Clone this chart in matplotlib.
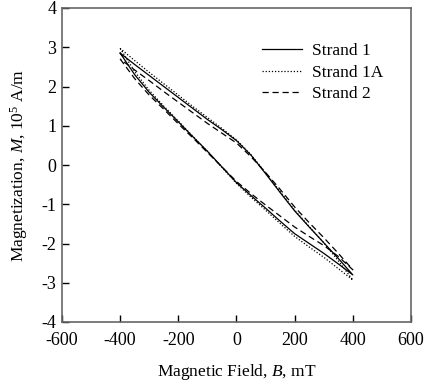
import matplotlib
matplotlib.use("Agg")
import matplotlib.pyplot as plt
import numpy as np

# Data
field = [-400, -350, -300, -250, -200, -150, -100, -50, 0, 50, 100, 150, 200, 250, 300, 350, 400]

s1_lower = [2.85, 2.30, 1.85, 1.47, 1.10, 0.72, 0.35, -0.05, -0.45, -0.78, -1.10, -1.43, -1.75, -2.00, -2.25, -2.52, -2.80]
s1_upper = [2.85, 2.56, 2.28, 2.00, 1.72, 1.44, 1.16, 0.90, 0.62, 0.25, -0.22, -0.70, -1.17, -1.58, -1.98, -2.38, -2.80]

s1a_lower = [2.97, 2.38, 1.90, 1.50, 1.12, 0.73, 0.35, -0.06, -0.47, -0.82, -1.15, -1.49, -1.82, -2.09, -2.35, -2.64, -2.93]
s1a_upper = [2.97, 2.66, 2.36, 2.07, 1.78, 1.49, 1.21, 0.93, 0.64, 0.26, -0.20, -0.68, -1.15, -1.57, -1.98, -2.44, -2.93]

s2_lower = [2.70, 2.20, 1.78, 1.42, 1.05, 0.69, 0.32, -0.05, -0.42, -0.73, -1.02, -1.30, -1.58, -1.82, -2.05, -2.33, -2.67]
s2_upper = [2.70, 2.42, 2.15, 1.87, 1.60, 1.33, 1.06, 0.81, 0.56, 0.21, -0.19, -0.62, -1.07, -1.47, -1.85, -2.25, -2.67]

labels = ["Strand 1", "Strand 1A", "Strand 2"]
xticks = [-600, -400, -200, 0, 200, 400, 600]
yticks = [-4, -3, -2, -1, 0, 1, 2, 3, 4]

plt.rcParams['font.family'] = ['Liberation Serif', 'DejaVu Serif']
plt.rcParams['mathtext.fontset'] = 'custom'
plt.rcParams['mathtext.rm'] = 'Liberation Serif'
plt.rcParams['mathtext.it'] = 'Liberation Serif:italic'
plt.rcParams['axes.unicode_minus'] = False

fig = plt.figure(figsize=(4.27, 3.87), dpi=100)
ax = fig.add_axes([62/427, 1 - 322/387, (411-62)/427, (322-8)/387])

def loop(lower, upper):
    x = list(field) + list(field[::-1])
    y = list(lower) + list(upper[::-1])
    return x, y

x, y = loop(s1_lower, s1_upper)
ax.plot(x, y, color='black', lw=0.9, ls='-', label=labels[0])
x, y = loop(s1a_lower, s1a_upper)
ax.plot(x, y, color='black', lw=0.9, ls=(0, (1, 1.5)), label=labels[1])
x, y = loop(s2_lower, s2_upper)
ax.plot(x, y, color='black', lw=0.9, ls=(0, (5, 3)), label=labels[2])

ax.set_xlim(-600, 600)
ax.set_ylim(-4, 4)
ax.set_xticks(xticks)
ax.set_yticks(yticks)
ax.tick_params(direction='in', length=5, width=1, labelsize=13, colors='black')
ax.tick_params(axis='x', pad=7.5)
ax.tick_params(axis='y', pad=4)
for s in ax.spines.values():
    s.set_color('#666666')
    s.set_linewidth(1.2)

ax.set_xlabel(r'Magnetic Field, $\mathit{B}$, mT', fontsize=12.5, labelpad=9)
ax.set_ylabel(r'Magnetization, $\mathit{M}$, 10$^5$ A/m', fontsize=12.5, labelpad=8)

ax.legend(loc='upper left', bbox_to_anchor=(0.573, 0.888), frameon=False, fontsize=12.5,
          handlelength=2.3, handletextpad=0.6, labelspacing=0.3, borderpad=0, borderaxespad=0)

fig.savefig('out.png', dpi=100)
